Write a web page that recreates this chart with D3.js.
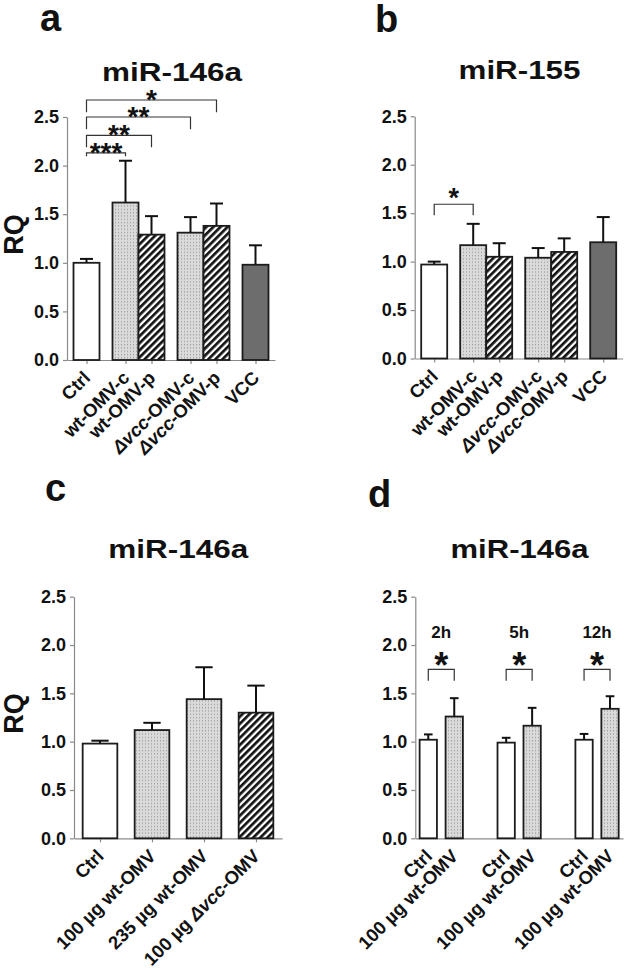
<!DOCTYPE html>
<html><head><meta charset="utf-8">
<script src="https://cdn.jsdelivr.net/npm/d3@7"></script>
<style>
body{margin:0;background:#fff}
svg{display:block}
text{font-family:"Liberation Sans",Arial,sans-serif;font-weight:bold;fill:#111}
</style>
</head><body>
<svg id="fig" width="624" height="970"></svg>
<script>
// ---------- data ----------
const catsA = ["Ctrl","wt-OMV-c","wt-OMV-p","Δvcc-OMV-c","Δvcc-OMV-p","VCC"];
const fillsA = ["open","dots","hatch","dots","hatch","solid"];
const groupsA = [0,1,1,2,2,3];
const meanA = [1.00,1.62,1.29,1.31,1.38,0.98];
const errA  = [0.04,0.43,0.19,0.16,0.23,0.20];

const catsB = catsA;
const fillsB = fillsA;
const groupsB = groupsA;
const meanB = [0.97,1.17,1.05,1.04,1.10,1.20];
const errB  = [0.03,0.22,0.14,0.10,0.14,0.26];

const catsC = ["Ctrl","100 µg wt-OMV","235 µg wt-OMV","100 µg Δvcc-OMV"];
const fillsC = ["open","dots","dots","hatch"];
const groupsC = [0,1,2,3];
const meanC = [0.98,1.12,1.44,1.30];
const errC  = [0.03,0.075,0.33,0.28];

const catsD = ["Ctrl","100 µg wt-OMV","Ctrl","100 µg wt-OMV","Ctrl","100 µg wt-OMV"];
const fillsD = ["open","dots","open","dots","open","dots"];
const groupsD = [0,0,1,1,2,2];
const timesD = ["2h","5h","12h"];
const meanD = [1.02,1.26,0.99,1.165,1.02,1.34];
const errD  = [0.055,0.19,0.05,0.185,0.06,0.13];

const yTicks = [0,0.5,1.0,1.5,2.0,2.5];
const titles = ["miR-146a","miR-155","miR-146a","miR-146a"];
const letters = ["a","b","c","d"];
// significance brackets: [from bar, to bar, line level (RQ), leg end (RQ), label]
const sigA = [[0,1,2.13,2.095,"***"],[0,2,2.31,2.19,"**"],[0,3,2.50,2.375,"**"],[0,4,2.675,2.55,"*"]];
const sigB = [[0,1,1.592,1.479,"*"]];
const sigD = [[0,1,1.748,1.63,"*"],[2,3,1.748,1.63,"*"],[4,5,1.748,1.63,"*"]];

// ---------- drawing ----------
const svg = d3.select("#fig");
const defs = svg.append("defs");
const dots = defs.append("pattern").attr("id","dots").attr("patternUnits","userSpaceOnUse")
  .attr("width",3).attr("height",3.3);
dots.append("rect").attr("width",3).attr("height",3.3).attr("fill","#dadada");
dots.append("rect").attr("x",1).attr("y",1).attr("width",1).attr("height",1).attr("fill","#8c8c8c");
const hatch = defs.append("pattern").attr("id","hatch").attr("patternUnits","userSpaceOnUse")
  .attr("width",5).attr("height",5).attr("patternTransform","rotate(45)");
hatch.append("rect").attr("width",5).attr("height",5).attr("fill","#fff");
hatch.append("rect").attr("width",2.7).attr("height",5).attr("fill","#111");

const fillOf = {open:"#fff", dots:"url(#dots)", hatch:"url(#hatch)", solid:"#6d6d6d"};
const axisCol = "#8a8a8a";

function labelText(sel, s){
  const i = s.indexOf("Δvcc");
  if(i<0){ sel.text(s); return; }
  if(i>0) sel.append("tspan").text(s.slice(0,i));
  sel.append("tspan").attr("font-style","italic").text("Δvcc");
  sel.append("tspan").text(s.slice(i+4));
}

function panel(cfg){
  const g = svg.append("g");
  const y = d3.scaleLinear().domain([0,2.5]).range([cfg.y0, cfg.y1]);
  const starts = []; let p = cfg.pad;
  cfg.groups.forEach((gr,i)=>{
    if(i>0) p += 2 + (gr===cfg.groups[i-1] ? cfg.inGap : cfg.outGap);
    starts.push(p);
  });
  const total = starts[starts.length-1] + 2 + cfg.pad;
  const x = d3.scaleLinear().domain([0,total]).range([cfg.x0, cfg.x1]);
  const bw = x(2)-x(0);
  const cx = starts.map(s=>x(s+1));

  // y axis
  const ya = g.append("g").attr("transform",`translate(${cfg.x0},0)`)
    .call(d3.axisLeft(y).tickValues(yTicks).tickFormat(d3.format(".1f")).tickSize(4).tickSizeOuter(0).tickPadding(4));
  ya.select(".domain").attr("stroke",axisCol).attr("stroke-width",1.2);
  ya.selectAll(".tick line").attr("stroke",axisCol).attr("stroke-width",1.2);
  ya.selectAll(".tick text").attr("font-size",18).attr("font-family",null).attr("fill","#111");
  // x axis
  const xa = g.append("g").attr("transform",`translate(0,${cfg.y0})`)
    .call(d3.axisBottom(x).tickValues(starts.map(s=>s+1)).tickSize(cfg.xTicks?4:0).tickSizeOuter(0).tickFormat(""));
  xa.select(".domain").attr("stroke",axisCol).attr("stroke-width",1.2);
  xa.selectAll(".tick line").attr("stroke",axisCol).attr("stroke-width",1.2);

  // bars
  g.selectAll("rect.bar").data(cfg.mean).join("rect").attr("class","bar")
    .attr("x",(d,i)=>x(starts[i])).attr("width",bw)
    .attr("y",d=>y(d)).attr("height",d=>cfg.y0-y(d))
    .attr("fill",(d,i)=>fillOf[cfg.fills[i]]).attr("stroke","#1c1c1c").attr("stroke-width",1.8);
  // error bars
  cfg.mean.forEach((m,i)=>{
    const top = y(m+cfg.err[i]);
    g.append("line").attr("x1",cx[i]).attr("x2",cx[i]).attr("y1",y(m)).attr("y2",top)
      .attr("stroke","#111").attr("stroke-width",2);
    g.append("line").attr("x1",cx[i]-bw/4).attr("x2",cx[i]+bw/4).attr("y1",top).attr("y2",top)
      .attr("stroke","#111").attr("stroke-width",2);
  });
  // x labels
  cfg.cats.forEach((c,i)=>{
    const t = g.append("text").attr("font-size",18.5).attr("text-anchor","end")
      .attr("transform",`translate(${cx[i]+5},${cfg.y0+19}) rotate(-45)`);
    labelText(t,c);
  });
  // significance
  (cfg.sig||[]).forEach(s=>{
    const a = cx[s[0]], b = cx[s[1]], ly = y(s[2]), le = y(s[3]);
    g.append("path").attr("d",`M${a},${le}V${ly}H${b}V${le}`).attr("fill","none")
      .attr("stroke","#333").attr("stroke-width",1.2);
    g.append("text").attr("x",(a+b)/2).attr("y",ly+cfg.starDy).attr("text-anchor","middle")
      .attr("font-size",cfg.starSize).text(s[4]);
  });
  if(cfg.times){
    cfg.times.forEach((t,k)=>{
      const a = cx[2*k], b = cx[2*k+1];
      g.append("text").attr("x",(a+b)/2).attr("y",y(cfg.sig[k][2])-31).attr("text-anchor","middle")
        .attr("font-size",17).text(t);
    });
  }
  // title, letter, y label
  g.append("text").attr("x",cfg.titleX).attr("y",cfg.titleY).attr("text-anchor","middle")
    .attr("font-size",25).attr("textLength",cfg.titleW).attr("lengthAdjust","spacingAndGlyphs").text(cfg.title);
  g.append("text").attr("x",cfg.letterX).attr("y",cfg.letterY).attr("font-size",38).text(cfg.letter);
  if(cfg.ylab){
    g.append("text").attr("transform",`translate(23,${(cfg.y0+cfg.y1)/2-4}) rotate(-90)`)
      .attr("text-anchor","middle").attr("font-size",27).text("RQ");
  }
}

panel({cats:catsA,fills:fillsA,groups:groupsA,mean:meanA,err:errA,sig:sigA,
  x0:67,x1:275,y0:360,y1:117,pad:0.5,inGap:0,outGap:1,xTicks:true,starSize:28,starDy:9,
  title:titles[0],titleX:172,titleY:80.5,titleW:140,letter:letters[0],letterX:40,letterY:31,ylab:true});
panel({cats:catsB,fills:fillsB,groups:groupsB,mean:meanB,err:errB,sig:sigB,
  x0:414.7,x1:622.7,y0:358.5,y1:116.3,pad:0.5,inGap:0,outGap:1,xTicks:true,starSize:27,starDy:3,
  title:titles[1],titleX:519.5,titleY:78.5,titleW:122,letter:letters[1],letterX:375,letterY:32,ylab:false});
panel({cats:catsC,fills:fillsC,groups:groupsC,mean:meanC,err:errC,
  x0:74,x1:282,y0:838.3,y1:596.7,pad:0.5,inGap:0,outGap:1,xTicks:true,
  title:titles[2],titleX:178.3,titleY:558.3,titleW:140,letter:letters[2],letterX:45,letterY:501,ylab:true});
panel({cats:catsD,fills:fillsD,groups:groupsD,mean:meanD,err:errD,sig:sigD,times:timesD,
  x0:415.3,x1:623,y0:838.3,y1:596.7,pad:0.5,inGap:1,outGap:4,xTicks:false,starSize:36,starDy:9,
  title:titles[3],titleX:519.5,titleY:558.3,titleW:138,letter:letters[3],letterX:368,letterY:507,ylab:false});
</script>
</body></html>
